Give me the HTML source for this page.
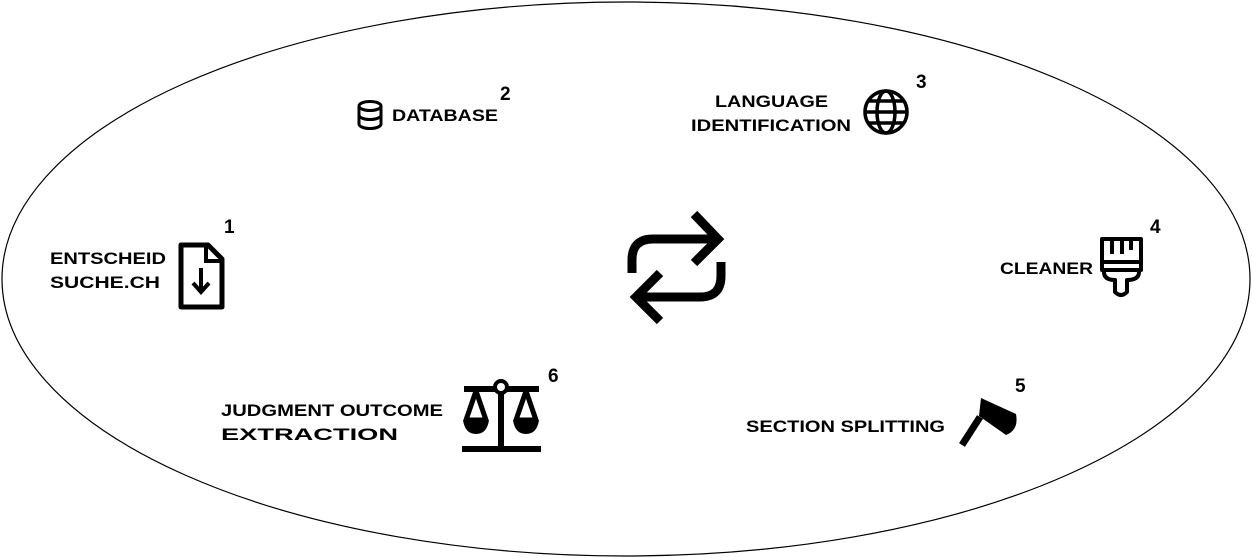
<!DOCTYPE html>
<html><head><style>body{margin:0;background:#fff}svg{display:block}text{font-family:"Liberation Sans",Arial,sans-serif;font-weight:bold;font-size:17px;fill:#000}text.n{font-size:19px}</style></head>
<body>
<svg width="1252" height="558" viewBox="0 0 1252 558">
<ellipse cx="626" cy="279" rx="624" ry="277" fill="none" stroke="#000" stroke-width="1.2"/>
<!-- 1 -->
<text x="50" y="264" textLength="116" lengthAdjust="spacingAndGlyphs">ENTSCHEID</text>
<text x="50" y="288" textLength="110" lengthAdjust="spacingAndGlyphs">SUCHE.CH</text>
<text class="n" x="224" y="233">1</text>
<path d="M181 245 H208 L222 259 V307 H181 Z" fill="none" stroke="#000" stroke-width="5" stroke-linejoin="round"/>
<path d="M206 245 V261 H222" fill="none" stroke="#000" stroke-width="4"/>
<path d="M201 268 V291 M193 283 L201 292 L209 283" fill="none" stroke="#000" stroke-width="4"/>
<!-- 2 -->
<text x="392" y="121" textLength="106" lengthAdjust="spacingAndGlyphs">DATABASE</text>
<text class="n" x="500" y="100">2</text>
<g fill="none" stroke="#000" stroke-width="3">
<ellipse cx="370" cy="106" rx="11" ry="4.5"/>
<path d="M359 106 V124 A11 4.5 0 0 0 381 124 V106 M359 115 A11 4.5 0 0 0 381 115"/>
</g>
<!-- 3 -->
<text x="715" y="107" textLength="113" lengthAdjust="spacingAndGlyphs">LANGUAGE</text>
<text x="691" y="131" textLength="160" lengthAdjust="spacingAndGlyphs">IDENTIFICATION</text>
<text class="n" x="916" y="88">3</text>
<g fill="none" stroke="#000" stroke-width="3.5">
<circle cx="886" cy="112" r="21"/>
<ellipse cx="886" cy="112" rx="9" ry="21"/>
<path d="M865 112 H907 M868 101 H904 M868 123 H904"/>
</g>
<!-- 4 -->
<text x="1000" y="274" textLength="93" lengthAdjust="spacingAndGlyphs">CLEANER</text>
<text class="n" x="1150" y="233">4</text>
<g fill="none" stroke="#000" stroke-width="4" stroke-linejoin="round">
<path d="M1102 239 H1141 V270 H1102 Z"/>
<path d="M1102 262 H1141"/>
<path d="M1112 240 V254 M1122 240 V254 M1131 240 V250"/>
<path d="M1104 272 Q1104 280 1115 280 V292 Q1121 298 1127 292 V280 Q1139 280 1139 272"/>
</g>
<!-- 5 -->
<text x="746" y="432" textLength="199" lengthAdjust="spacingAndGlyphs">SECTION SPLITTING</text>
<text class="n" x="1015" y="392">5</text>
<path d="M981 398 L1016 414 Q1019 430 1006 435 L979 416 Z" fill="#000"/>
<path d="M980 417 L962 445" stroke="#000" stroke-width="7"/>
<!-- 6 -->
<text x="221" y="416" textLength="222" lengthAdjust="spacingAndGlyphs">JUDGMENT OUTCOME</text>
<text x="221" y="440" textLength="177" lengthAdjust="spacingAndGlyphs">EXTRACTION</text>
<text class="n" x="548" y="382">6</text>
<g stroke="#000" fill="none" stroke-width="6">
<path d="M464 389 H539 M501 394 V447 M462 449 H541"/>
<path d="M476 391 L466 420 H486 Z M526 391 L516 420 H536 Z" stroke-width="5" stroke-linejoin="round"/>
</g>
<circle cx="501" cy="387" r="6" fill="#fff" stroke="#000" stroke-width="4"/>
<path d="M463 420 H489 Q487 434 476 434 Q465 434 463 420 Z M513 420 H539 Q537 434 526 434 Q515 434 513 420 Z" fill="#000"/>
<!-- center -->
<g fill="none" stroke="#000" stroke-width="9">
<path d="M632 273 V260 Q632 239 653 239 H718"/>
<path d="M694 214 L718 239 L694 263"/>
<path d="M721 262 V276 Q721 297 700 297 H636"/>
<path d="M660 273 L636 297 L660 321"/>
</g>
</svg>
</body></html>
